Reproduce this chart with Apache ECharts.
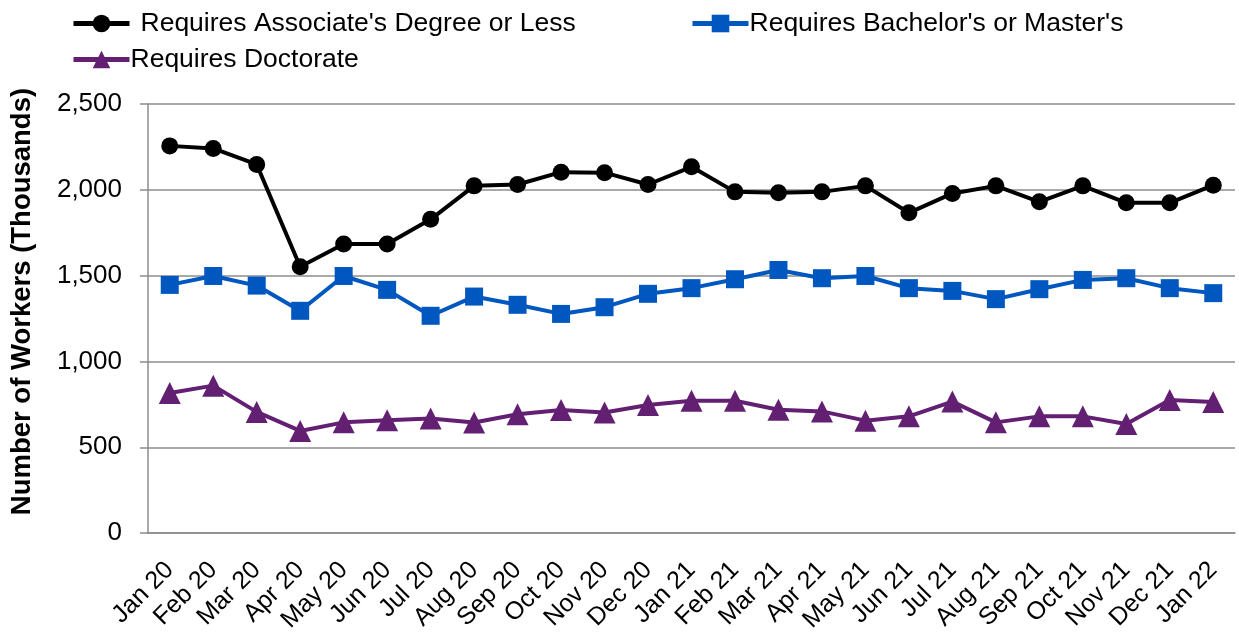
<!DOCTYPE html>
<html>
<head>
<meta charset="utf-8">
<script src="https://cdn.jsdelivr.net/npm/echarts@6/dist/echarts.min.js"></script>
<style>
  html, body { margin: 0; padding: 0; background: #fff; }
  #chart { width: 1239px; height: 635px; }
</style>
</head>
<body>
<div id="chart"></div>
<script>
var months = ['Jan 20', 'Feb 20', 'Mar 20', 'Apr 20', 'May 20', 'Jun 20', 'Jul 20', 'Aug 20',
  'Sep 20', 'Oct 20', 'Nov 20', 'Dec 20', 'Jan 21', 'Feb 21', 'Mar 21', 'Apr 21', 'May 21',
  'Jun 21', 'Jul 21', 'Aug 21', 'Sep 21', 'Oct 21', 'Nov 21', 'Dec 21', 'Jan 22'];

var associate = [2256, 2241, 2148, 1552, 1684, 1684, 1828, 2023, 2031, 2103, 2100, 2031, 2134,
  1988, 1983, 1988, 2023, 1866, 1979, 2023, 1930, 2023, 1924, 1924, 2027];
var bachelor = [1446, 1498, 1442, 1295, 1498, 1417, 1266, 1378, 1330, 1277, 1316, 1394, 1427,
  1479, 1533, 1485, 1498, 1427, 1411, 1363, 1421, 1475, 1485, 1427, 1398];
var doctorate = [816, 859, 706, 595, 645, 657, 667, 644, 692, 717, 702, 746, 771,
  771, 719, 709, 655, 680, 766, 645, 680, 680, 636, 775, 764];

var names = ["Requires Associate's Degree or Less", "Requires Bachelor's or Master's", 'Requires Doctorate'];

var font = 'Liberation Sans, Arial, sans-serif';
var chart = echarts.init(document.getElementById('chart'));

function legendAt(left, top, name, pad) {
  return {
    left: left, top: top, data: [name],
    itemWidth: 56, itemHeight: 22,
    lineStyle: { width: 5 },
    selectedMode: false,
    textStyle: { fontFamily: font, fontSize: 26.5, color: '#000', padding: [0, 0, 0, pad] }
  };
}

option = {
  animation: false,
  legend: [
    legendAt(66, 5, names[0], 6),
    legendAt(685, 5, names[1], -4),
    legendAt(66, 41, names[2], -4)
  ],
  grid: { left: 148, right: 4, top: 104, bottom: 101 },
  xAxis: {
    type: 'category',
    data: months,
    boundaryGap: true,
    axisLine: { lineStyle: { color: '#8c8c8c', width: 1.5 } },
    axisTick: { length: 8, lineStyle: { color: '#8c8c8c', width: 1.5 } },
    axisLabel: { rotate: 45, interval: 0, margin: 33, color: '#000', fontFamily: font, fontSize: 25 }
  },
  yAxis: {
    type: 'value',
    min: 0,
    max: 2500,
    interval: 500,
    name: 'Number of Workers (Thousands)',
    nameLocation: 'middle',
    nameGap: 112,
    nameTextStyle: { fontFamily: font, fontSize: 27.5, fontWeight: 'bold', color: '#000', padding: [0, 0, 0, 34] },
    axisLine: { show: true, lineStyle: { color: '#8c8c8c', width: 1.5 } },
    axisTick: { show: true, length: 8, lineStyle: { color: '#8c8c8c', width: 1.5 } },
    splitLine: { lineStyle: { color: '#8c8c8c', width: 1.5 } },
    axisLabel: {
      margin: 26, color: '#000', fontFamily: font, fontSize: 26,
      formatter: function (v) { return v.toLocaleString('en-US'); }
    }
  },
  series: [
    {
      name: names[0], type: 'line', data: associate,
      symbol: 'circle', symbolSize: 17,
      lineStyle: { color: '#000', width: 4 },
      itemStyle: { color: '#000' }
    },
    {
      name: names[1], type: 'line', data: bachelor,
      symbol: 'rect', symbolSize: 18,
      lineStyle: { color: '#0057c0', width: 4 },
      itemStyle: { color: '#0057c0' }
    },
    {
      name: names[2], type: 'line', data: doctorate,
      symbol: 'triangle', symbolSize: 22,
      lineStyle: { color: '#632073', width: 4 },
      itemStyle: { color: '#632073' }
    }
  ]
};
chart.setOption(option);
</script>
</body>
</html>
